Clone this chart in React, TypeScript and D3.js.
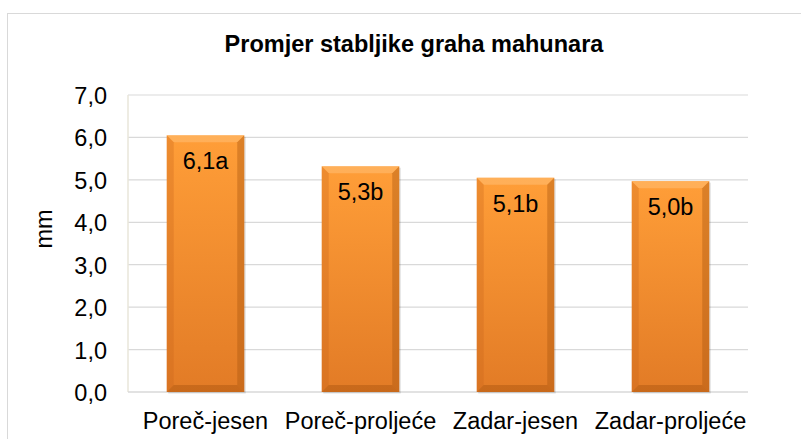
import React from "react";
import * as d3 from "d3";

const categories = ["Poreč-jesen", "Poreč-proljeće", "Zadar-jesen", "Zadar-proljeće"];
const values = [6.05, 5.32, 5.05, 4.97];
const valueLabels = ["6,1a", "5,3b", "5,1b", "5,0b"];
const yTicks = [0, 1, 2, 3, 4, 5, 6, 7];

const W = 801;
const H = 439;
const margin = { top: 95, right: 53, bottom: 47, left: 128 };
const font = "'Liberation Sans', Arial, sans-serif";
const fs = 23.5;

const App = () => {
  const x = d3
    .scaleBand()
    .domain(categories)
    .range([margin.left, W - margin.right])
    .paddingInner(0.5)
    .paddingOuter(0.25);

  const y = d3
    .scaleLinear()
    .domain([0, 7])
    .range([H - margin.bottom, margin.top]);

  const bw = x.bandwidth();
  const bev = 7;

  return (
    <svg
      width={W}
      height={H}
      style={{ position: "fixed", left: 0, top: 0, display: "block" }}
      fontFamily={font}
    >
      <defs>
        <linearGradient id="barGrad" x1="0" y1="0" x2="0" y2="1">
          <stop offset="0" stopColor="#ff9e38" />
          <stop offset="1" stopColor="#e27b26" />
        </linearGradient>
      </defs>
      <rect x={0} y={0} width={W} height={H} fill="#fff" />
      <rect x={7.5} y={13.5} width={800} height={440} fill="none" stroke="#d9d9d9" />

      <text x={414} y={52} textAnchor="middle" fontSize={23.5} fontWeight="bold" fill="#000">
        Promjer stabljike graha mahunara
      </text>

      {yTicks.map((t) => (
        <g key={t}>
          {t > 0 && (
            <line
              x1={margin.left}
              x2={W - margin.right}
              y1={y(t)}
              y2={y(t)}
              stroke="#d9d9d9"
              strokeWidth={1.2}
            />
          )}
          <text x={107} y={y(t) + 9} textAnchor="end" fontSize={fs} fill="#000">
            {d3.format(".1f")(t).replace(".", ",")}
          </text>
        </g>
      ))}
      <line
        x1={margin.left}
        x2={margin.left}
        y1={margin.top}
        y2={y(0)}
        stroke="#e8e6da"
        strokeWidth={1.5}
      />
      <line
        x1={margin.left}
        x2={W - margin.right}
        y1={y(0)}
        y2={y(0)}
        stroke="#d9d9d9"
        strokeWidth={1.5}
      />

      <text
        transform={`translate(52,229) rotate(-90)`}
        textAnchor="middle"
        fontSize={fs}
        fill="#000"
      >
        mm
      </text>

      {categories.map((c, i) => {
        const x0 = x(c)!;
        const y0 = y(values[i]);
        const y1 = y(0);
        return (
          <g key={c}>
            <rect x={x0 + 1.5} y={y0 + 1.5} width={bw} height={y1 - y0} fill="#000" opacity={0.12} />
            <rect x={x0} y={y0} width={bw} height={y1 - y0} fill="url(#barGrad)" />
            {/* bevel edges */}
            <polygon
              points={`${x0},${y0} ${x0 + bw},${y0} ${x0 + bw - bev},${y0 + bev} ${x0 + bev},${y0 + bev}`}
              fill="#ffc27a"
              opacity={0.5}
            />
            <polygon
              points={`${x0},${y0} ${x0 + bev},${y0 + bev} ${x0 + bev},${y1 - bev} ${x0},${y1}`}
              fill="#c8641a"
              opacity={0.3}
            />
            <polygon
              points={`${x0 + bw},${y0} ${x0 + bw - bev},${y0 + bev} ${x0 + bw - bev},${y1 - bev} ${x0 + bw},${y1}`}
              fill="#a8540f"
              opacity={0.4}
            />
            <polygon
              points={`${x0},${y1} ${x0 + bev},${y1 - bev} ${x0 + bw - bev},${y1 - bev} ${x0 + bw},${y1}`}
              fill="#a8540f"
              opacity={0.45}
            />
            <text
              x={x0 + bw / 2}
              y={y0 + 34}
              textAnchor="middle"
              fontSize={fs}
              fill="#000"
            >
              {valueLabels[i]}
            </text>
            <text x={x0 + bw / 2} y={y1 + 37} textAnchor="middle" fontSize={fs} fill="#000">
              {c}
            </text>
          </g>
        );
      })}
    </svg>
  );
};

export default App;
